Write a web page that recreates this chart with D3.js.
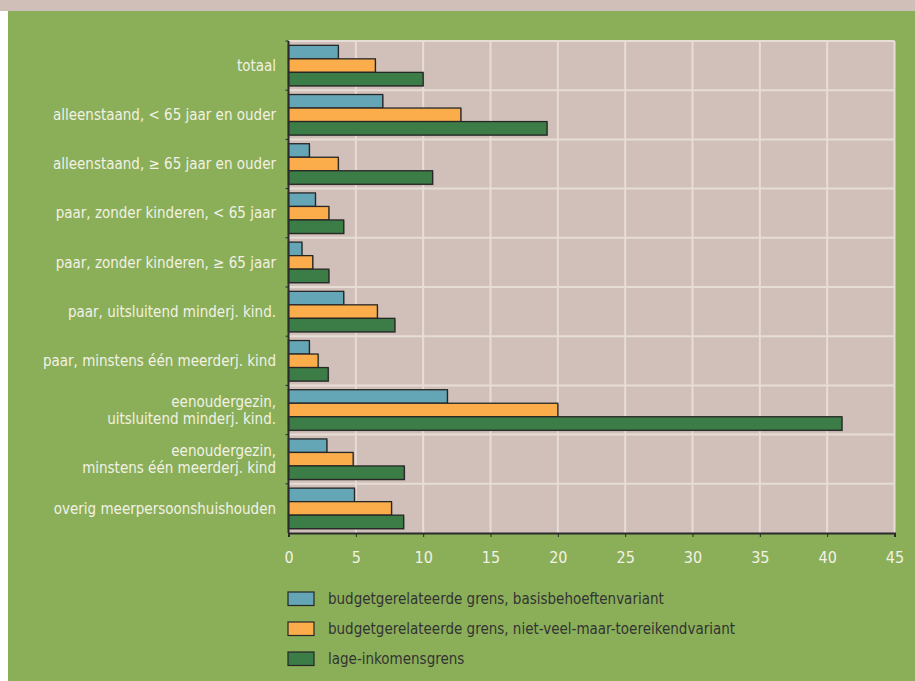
<!DOCTYPE html>
<html><head><meta charset="utf-8">
<script src="https://cdn.jsdelivr.net/npm/d3@7"></script>
<style>
html,body{margin:0;padding:0;background:#fff;}
svg{display:block;}
</style></head>
<body>
<script>
const categories = [
  ["totaal"],
  ["alleenstaand, < 65 jaar en ouder"],
  ["alleenstaand, ≥ 65 jaar en ouder"],
  ["paar, zonder kinderen, < 65 jaar"],
  ["paar, zonder kinderen, ≥ 65 jaar"],
  ["paar, uitsluitend minderj. kind."],
  ["paar, minstens één meerderj. kind"],
  ["eenoudergezin,", "uitsluitend minderj. kind."],
  ["eenoudergezin,", "minstens één meerderj. kind"],
  ["overig meerpersoonshuishouden"]
];
const seriesNames = [
  "budgetgerelateerde grens, basisbehoeftenvariant",
  "budgetgerelateerde grens, niet-veel-maar-toereikendvariant",
  "lage-inkomensgrens"
];
const basis   = [3.7, 7.0, 1.55, 2.0, 1.0, 4.1, 1.55, 11.8, 2.85, 4.9];
const nietVeel= [6.45, 12.8, 3.7, 3.0, 1.8, 6.6, 2.2, 20.0, 4.8, 7.65];
const lageInk = [10.0, 19.2, 10.7, 4.1, 3.0, 7.9, 2.95, 41.1, 8.6, 8.55];
const xTicks = [0, 5, 10, 15, 20, 25, 30, 35, 40, 45];
const colors = ["#65a6b6", "#fbad4b", "#3c7c46"];

const W = 915, H = 681;
const plot = {left: 288.5, right: 894.5, top: 41, bottom: 533};
const font = "'DejaVu Sans Condensed','Liberation Sans Narrow',sans-serif";

const svg = d3.select("body").append("svg").attr("width", W).attr("height", H);
svg.append("rect").attr("width", W).attr("height", H).attr("fill", "#fff");
svg.append("rect").attr("x", 8).attr("y", 11).attr("width", W - 8).attr("height", H - 11).attr("fill", "#8aaf58");
svg.append("rect").attr("x", 0).attr("y", 0).attr("width", W).attr("height", 11).attr("fill", "#d0bfb8");

const x = d3.scaleLinear().domain([0, 45]).range([plot.left, plot.right]);
const y = d3.scaleBand().domain(d3.range(categories.length)).range([plot.top, plot.bottom]).paddingInner(0).paddingOuter(0);
const ySub = d3.scaleBand().domain([0, 1, 2]).range([0, y.bandwidth()]).paddingOuter(0.32).paddingInner(0);

// plot background
svg.append("rect").attr("x", plot.left).attr("y", plot.top)
  .attr("width", plot.right - plot.left).attr("height", plot.bottom - plot.top)
  .attr("fill", "#d1c0b9");

// grid
const grid = svg.append("g").attr("stroke", "#e7ddd7").attr("stroke-width", 2);
xTicks.slice(1).forEach(t => {
  grid.append("line").attr("x1", x(t)).attr("x2", x(t)).attr("y1", plot.top).attr("y2", plot.bottom);
});
d3.range(categories.length).forEach(i => {
  grid.append("line").attr("x1", plot.left).attr("x2", plot.right).attr("y1", y(i)).attr("y2", y(i));
});

// bars
const allSeries = [basis, nietVeel, lageInk];
allSeries.forEach((vals, s) => {
  const g = svg.append("g");
  g.selectAll("rect.sh").data(vals).enter().append("rect")
    .attr("x", plot.left + 1)
    .attr("y", (d, i) => y(i) + ySub(s) + 1)
    .attr("width", d => x(d) - x(0))
    .attr("height", ySub.bandwidth())
    .attr("fill", "#6f6a68").attr("opacity", 0.5);
  g.selectAll("rect.b").data(vals).enter().append("rect")
    .attr("x", x(0))
    .attr("y", (d, i) => y(i) + ySub(s))
    .attr("width", d => x(d) - x(0))
    .attr("height", ySub.bandwidth())
    .attr("fill", colors[s])
    .attr("stroke", "#262626").attr("stroke-width", 1.3);
});

// axes
const xAxis = d3.axisBottom(x).tickValues(xTicks).tickSize(4).tickPadding(15);
const gx = svg.append("g").attr("transform", `translate(0,${plot.bottom})`).call(xAxis);
gx.select(".domain").attr("stroke", "#2a2a2a").attr("stroke-width", 2);
gx.selectAll(".tick line").attr("stroke", "#2a2a2a");
gx.selectAll(".tick text").attr("fill", "#f3f1e6").attr("font-family", font).attr("font-size", 16);

const ax = svg.append("g");
ax.append("line").attr("x1", plot.left).attr("x2", plot.left).attr("y1", plot.top).attr("y2", plot.bottom)
  .attr("stroke", "#2a2a2a").attr("stroke-width", 2);
d3.range(categories.length).forEach(i => {
  ax.append("line").attr("x1", plot.left - 3).attr("x2", plot.left).attr("y1", y(i)).attr("y2", y(i))
    .attr("stroke", "#2a2a2a").attr("stroke-width", 1);
});

// category labels
const labels = svg.append("g").attr("font-family", font).attr("font-size", 15).attr("fill", "#f3f1e6").attr("text-anchor", "end");
categories.forEach((lines, i) => {
  const cy = y(i) + y.bandwidth() / 2;
  const t = labels.append("text").attr("x", 276).attr("y", cy);
  lines.forEach((ln, j) => {
    t.append("tspan").attr("x", 276)
      .attr("y", cy + (j - (lines.length - 1) / 2) * 17)
      .attr("dy", "0.35em").text(ln);
  });
});

// legend
const leg = svg.append("g").attr("font-family", font).attr("font-size", 15).attr("fill", "#333");
seriesNames.forEach((name, i) => {
  const ly = 592 + i * 30;
  leg.append("rect").attr("x", 288).attr("y", ly).attr("width", 26).attr("height", 13.5)
    .attr("fill", colors[i]).attr("stroke", "#262626").attr("stroke-width", 1.2);
  leg.append("text").attr("x", 328).attr("y", ly + 7).attr("dy", "0.35em").text(name);
});
</script>
</body></html>
